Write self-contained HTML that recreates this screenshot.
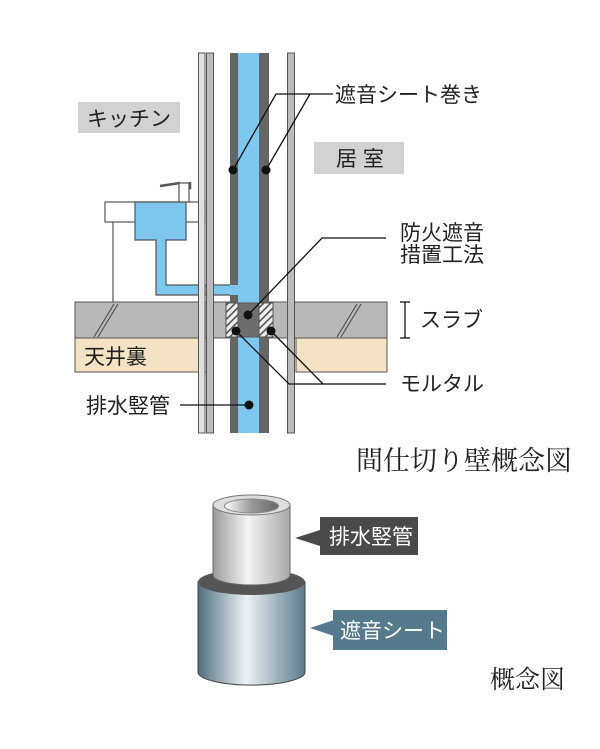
<!DOCTYPE html>
<html><head><meta charset="utf-8"><style>
html,body{margin:0;padding:0;background:#fff;}
svg text{font-family:"Liberation Sans","Noto Sans CJK JP",sans-serif;fill:#222;}
</style></head><body>
<svg width="600" height="744" viewBox="0 0 600 744" xmlns="http://www.w3.org/2000/svg">
<defs>
<pattern id="h" width="5" height="5" patternUnits="userSpaceOnUse" patternTransform="rotate(45)">
<rect width="5" height="5" fill="#eee"/><rect width="1.6" height="5" fill="#555"/></pattern>
<linearGradient id="g1" x1="0" x2="1"><stop offset="0" stop-color="#9a9a9a"/><stop offset="0.45" stop-color="#f4f4f4"/><stop offset="1" stop-color="#a8a8a8"/></linearGradient>
<linearGradient id="g2" x1="0" x2="1"><stop offset="0" stop-color="#4e6f80"/><stop offset="0.45" stop-color="#eef2f4"/><stop offset="1" stop-color="#5a7b8c"/></linearGradient>
<linearGradient id="g3" x1="0" x2="1"><stop offset="0" stop-color="#fff"/><stop offset="0.5" stop-color="#999"/><stop offset="1" stop-color="#666"/></linearGradient>
</defs>
<rect x="75" y="302" width="312" height="36" fill="#b8b8b8" stroke="#555" stroke-width="1"/>
<path d="M94 337 L114 304 M98 337 L118 304 M337 337 L357 304 M341 337 L361 304" stroke="#555" stroke-width="1.2"/>
<rect x="75" y="338" width="132" height="34" fill="#f3e2c4" stroke="#555" stroke-width="1"/>
<rect x="296" y="338" width="91" height="34" fill="#f3e2c4" stroke="#555" stroke-width="1"/>
<line x1="113" y1="222" x2="113" y2="302" stroke="#555" stroke-width="1.2"/>
<rect x="105" y="202" width="100" height="20" fill="#fff" stroke="#555" stroke-width="1.2"/>
<path d="M135 202 H186 V240 H166 V285 H238 V295 H156 V240 H135 Z" fill="#7ec8f0" stroke="#555" stroke-width="1.2"/>
<path d="M180 202 V188 H190 V182 M160 186 L180 183" stroke="#555" stroke-width="2.5" fill="none"/>
<rect x="179" y="183" width="10" height="19" fill="#fff" stroke="#555" stroke-width="1.2"/>
<rect x="198.5" y="53" width="6.5" height="380" fill="#e0e0e0" stroke="#555" stroke-width="1"/>
<rect x="206.5" y="53" width="7" height="380" fill="#bbb" stroke="#555" stroke-width="1"/>
<rect x="230" y="53" width="8" height="380" fill="#666"/>
<rect x="238" y="53" width="21" height="380" fill="#7ec8f0"/>
<rect x="259" y="53" width="10" height="380" fill="#666"/>
<rect x="230" y="285" width="8" height="10" fill="#7ec8f0"/>
<rect x="287.5" y="53" width="7" height="380" fill="#bbb" stroke="#555" stroke-width="1"/>
<rect x="226" y="303" width="12" height="34" fill="url(#h)" stroke="#555"/>
<rect x="238" y="303" width="21" height="34" fill="#6e6e6e" stroke="#555"/>
<rect x="259" y="303" width="14" height="34" fill="url(#h)" stroke="#555"/>
<rect x="78" y="102" width="102" height="31" fill="#d2d2d2"/>
<text x="87" y="126" font-size="21">キッチン</text>
<rect x="314" y="142" width="90" height="32" fill="#d2d2d2"/>
<text x="336" y="166" font-size="21">居 室</text>
<g stroke="#111" stroke-width="1.3" fill="none">
<path d="M233 170 L276 94 H333 M266 170 L310 94"/>
<path d="M248 315 L322 238 H386"/>
<path d="M236 331 L289 384 H386 M271 331 L323 384"/>
<path d="M180 405 H249"/>
<path d="M400 302 H410 M405 302 V338 M400 338 H410"/>
</g>
<g fill="#111"><circle cx="233" cy="170" r="4.5"/><circle cx="266" cy="170" r="4.5"/><circle cx="248" cy="315" r="4.5"/><circle cx="236" cy="331" r="4.5"/><circle cx="271" cy="331" r="4.5"/><circle cx="249" cy="405" r="4.5"/></g>
<text x="335" y="102" font-size="21">遮音シート巻き</text>
<text x="400" y="240" font-size="21">防火遮音</text>
<text x="400" y="262" font-size="21">措置工法</text>
<text x="420" y="327" font-size="21">スラブ</text>
<text x="400" y="391" font-size="21">モルタル</text>
<text x="86" y="413" font-size="21">排水竪管</text>
<text x="84" y="364" font-size="21">天井裏</text>
<text x="356" y="470" font-size="27" style="font-family:'Liberation Serif','Noto Serif CJK SC',serif">間仕切り壁概念図</text>
<path d="M198 582 V672 A53 13 0 0 0 305 672 V582 Z" fill="url(#g2)" stroke="#444"/>
<ellipse cx="251.5" cy="582" rx="53.5" ry="13" fill="#555"/>
<path d="M213 505 V575 A38.5 10 0 0 0 290 575 V505 Z" fill="url(#g1)" stroke="#666"/>
<ellipse cx="251.5" cy="505" rx="38.5" ry="10" fill="#ddd" stroke="#777"/>
<ellipse cx="251.5" cy="506" rx="27" ry="7" fill="url(#g3)" stroke="#888"/>
<path d="M295 538 L320 530 V546 Z" fill="#4a4a4a"/>
<rect x="320" y="517" width="98" height="38" fill="#4a4a4a"/>
<text x="329" y="544" font-size="21" style="fill:#fff">排水竪管</text>
<path d="M310 628 L334 620 V636 Z" fill="#557a8c"/>
<rect x="333" y="610" width="114" height="40" fill="#557a8c"/>
<text x="340" y="638" font-size="21" style="fill:#fff">遮音シート</text>
<text x="490" y="688" font-size="25" style="font-family:'Liberation Serif','Noto Serif CJK SC',serif">概念図</text>
</svg>
</body></html>
